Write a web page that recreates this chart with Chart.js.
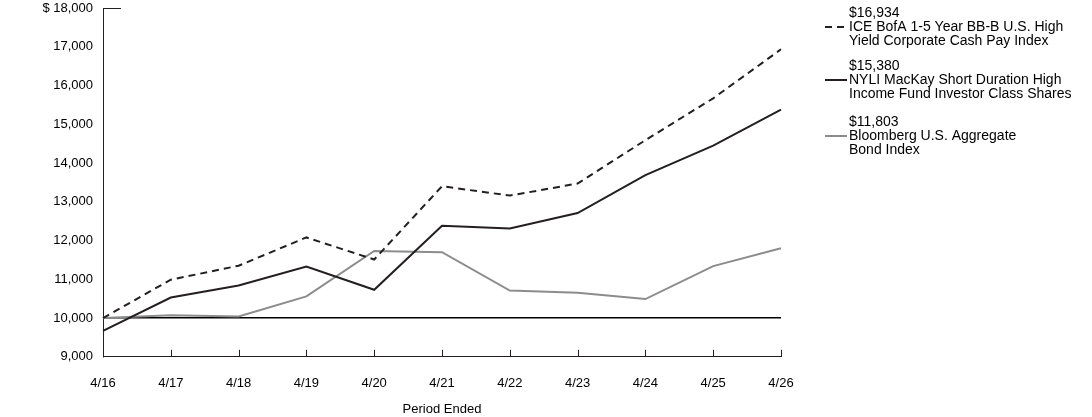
<!DOCTYPE html>
<html>
<head>
<meta charset="utf-8">
<script src="https://cdn.jsdelivr.net/npm/chart.js@4/dist/chart.umd.min.js"></script>
<style>
	body { margin: 0; background: #fff; }
	canvas { display: block; }
</style>
</head>
<body>
<canvas id="grafik" width="1092" height="417"></canvas>
<script>
var periods = ['4/16', '4/17', '4/18', '4/19', '4/20', '4/21', '4/22', '4/23', '4/24', '4/25', '4/26'];

var iceBofa = [10000, 10990, 11350, 12080, 11510, 13400, 13160, 13470, 14590, 15670, 16934];
var nyliFund = [9670, 10530, 10840, 11330, 10730, 12380, 12310, 12710, 13690, 14450, 15380];
var bloomberg = [10000, 10070, 10040, 10560, 11730, 11700, 10710, 10650, 10490, 11340, 11803];

var seriesNames = [
	['ICE BofA 1-5 Year BB-B U.S. High', 'Yield Corporate Cash Pay Index'],
	['NYLI MacKay Short Duration High', 'Income Fund Investor Class Shares'],
	['Bloomberg U.S. Aggregate', 'Bond Index']
];

var yTicks = [9000, 10000, 11000, 12000, 13000, 14000, 15000, 16000, 17000, 18000];

var FONT = 'Liberation Sans, Arial, sans-serif';
var DARK = '#231f20';
var GREY = '#8c8c8c';

function dollar(n) {
	return n.toLocaleString('en-US');
}

// axis decorations: tick marks pointing up, stub at the top of the y axis
var axisMarks = {
	id: 'axisMarks',
	afterDraw: function (chart) {
		var ctx = chart.ctx;
		var x = chart.scales.x;
		var y = chart.scales.y;
		var bottom = chart.chartArea.bottom;
		ctx.save();
		ctx.strokeStyle = DARK;
		ctx.lineWidth = 1;
		for (var i = 1; i < x.ticks.length; i++) {
			var px = Math.round(x.getPixelForTick(i)) + 0.5;
			ctx.beginPath();
			ctx.moveTo(px, bottom);
			ctx.lineTo(px, bottom - 7);
			ctx.stroke();
		}
		var top = Math.round(y.getPixelForValue(yTicks[yTicks.length - 1])) + 0.5;
		ctx.beginPath();
		ctx.moveTo(chart.chartArea.left, top);
		ctx.lineTo(chart.chartArea.left + 18, top);
		ctx.stroke();
		ctx.restore();
	}
};

// legend at the right with ending values
var sideLegend = {
	id: 'sideLegend',
	afterDraw: function (chart) {
		var ctx = chart.ctx;
		var sets = chart.data.datasets;
		var textX = 849;
		var groupY = [13, 66, 122];
		ctx.save();
		ctx.font = '14px ' + FONT;
		ctx.textBaseline = 'middle';
		ctx.fillStyle = '#000';
		for (var i = 0; i < sets.length; i++) {
			var d = sets[i].data;
			var y0 = groupY[i];
			ctx.fillText('$' + dollar(d[d.length - 1]), textX, y0);
			ctx.fillText(seriesNames[i][0], textX, y0 + 14);
			ctx.fillText(seriesNames[i][1], textX, y0 + 28);
			ctx.strokeStyle = sets[i].borderColor;
			ctx.lineWidth = 2;
			ctx.setLineDash(sets[i].borderDash || []);
			ctx.beginPath();
			ctx.moveTo(825, y0 + 14);
			ctx.lineTo(847, y0 + 14);
			ctx.stroke();
			ctx.setLineDash([]);
		}
		ctx.restore();
	}
};

var chartdata = {
	labels: periods,
	datasets: [
		{
			label: seriesNames[0].join(' '),
			data: iceBofa,
			borderColor: DARK,
			borderWidth: 2,
			borderDash: [7, 5],
			pointRadius: 0,
			tension: 0
		},
		{
			label: seriesNames[1].join(' '),
			data: nyliFund,
			borderColor: DARK,
			borderWidth: 2,
			pointRadius: 0,
			tension: 0
		},
		{
			label: seriesNames[2].join(' '),
			data: bloomberg,
			borderColor: GREY,
			borderWidth: 2,
			pointRadius: 0,
			tension: 0
		}
	]
};

new Chart(document.getElementById('grafik'), {
	type: 'line',
	data: chartdata,
	plugins: [axisMarks, sideLegend],
	options: {
		responsive: false,
		animation: false,
		devicePixelRatio: 1,
		layout: { padding: { top: 0, right: 311, left: 0, bottom: 0 } },
		plugins: {
			legend: { display: false },
			tooltip: { enabled: false }
		},
		scales: {
			x: {
				offset: false,
				grid: { drawOnChartArea: false, drawTicks: false },
				border: { display: true, color: DARK, width: 1 },
				ticks: {
					color: '#000',
					font: { family: FONT, size: 13 },
					padding: 19,
					maxRotation: 0,
					autoSkip: false
				},
				title: {
					display: true,
					text: 'Period Ended',
					color: '#000',
					font: { family: FONT, size: 13 },
					padding: { top: -9, bottom: 0 }
				}
			},
			y: {
				min: 9000,
				max: 18000,
				afterFit: function (scale) {
					scale.width = 103;
					scale.paddingTop = 8;
					scale.paddingBottom = 0;
				},
				afterBuildTicks: function (scale) {
					scale.ticks = yTicks.map(function (v) { return { value: v }; });
				},
				grid: {
					drawTicks: false,
					color: function (c) { return c.tick && c.tick.value === 10000 ? '#000' : 'rgba(0,0,0,0)'; },
					lineWidth: 1.5
				},
				border: { display: true, color: DARK, width: 1 },
				ticks: {
					color: '#000',
					font: { family: FONT, size: 13 },
					padding: 10,
					callback: function (v) {
						return v === 18000 ? '$ ' + dollar(v) : dollar(v);
					}
				}
			}
		}
	}
});
</script>
</body>
</html>
